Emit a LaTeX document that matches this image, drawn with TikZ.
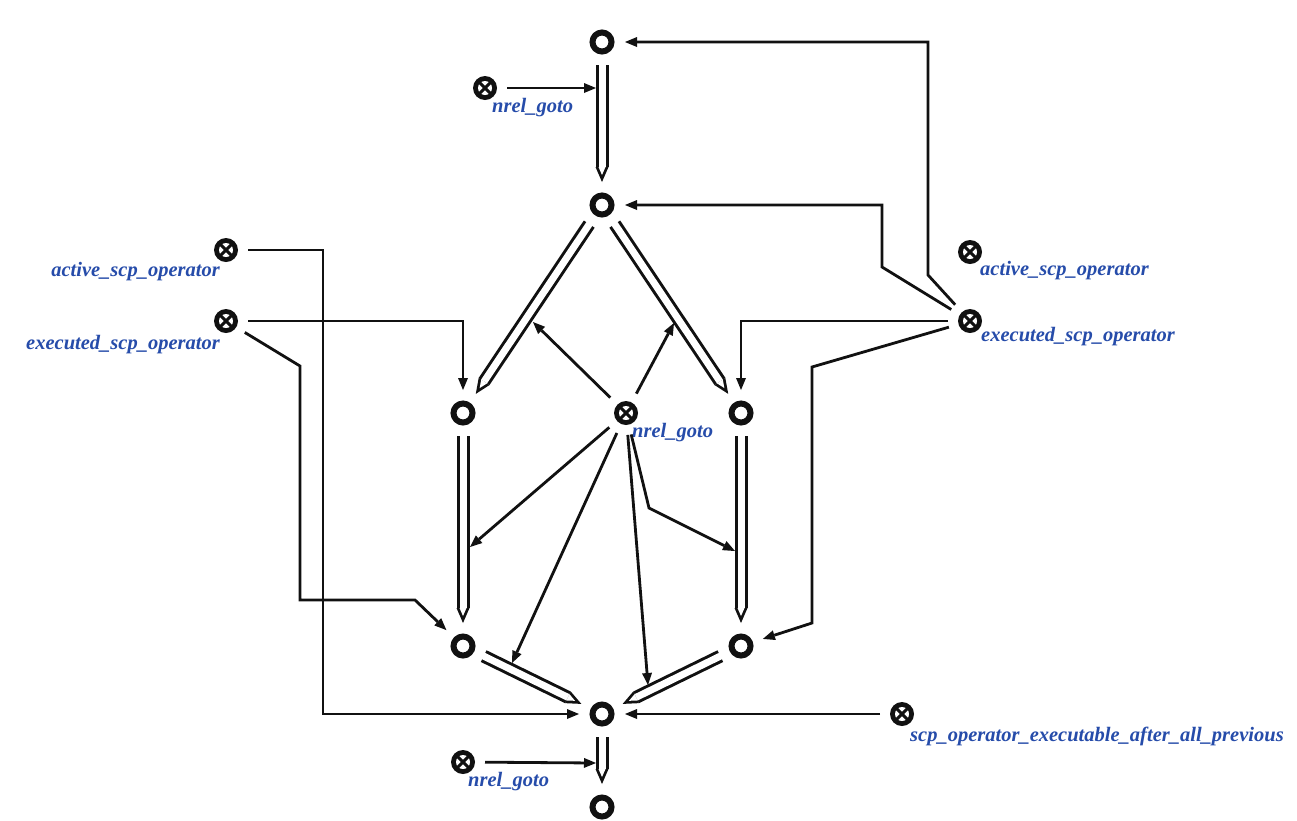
\documentclass[tikz,border=0pt]{standalone}
\usepackage{fontspec}
\setmainfont{Liberation Serif}
\usetikzlibrary{arrows.meta,calc}
\definecolor{lblblue}{RGB}{38,76,170}
\definecolor{ink}{RGB}{17,17,17}
% common (pair) arc: black outer body with a white core and pencil tip
\newcommand\pairarc[2]{%
  \draw[pairout] (#1) -- (#2);
  \draw[pairin] (#1) -- (#2);}
\begin{document}
\begin{tikzpicture}[x=1pt,y=-1pt,
  elnode/.style={circle, draw=ink, line width=6pt, fill=white,
    minimum size=19pt, inner sep=0pt, outer sep=13.5pt},
  classnode/.style={circle, fill=ink, minimum size=24pt, inner sep=0pt,
    outer sep=10pt,
    path picture={
      \fill[white] (path picture bounding box.center) circle[radius=7pt];
      \draw[ink, line width=3pt]
        ($(path picture bounding box.center)+(-8pt,-8pt)$) --
        ($(path picture bounding box.center)+(8pt,8pt)$);
      \draw[ink, line width=3pt]
        ($(path picture bounding box.center)+(-8pt,8pt)$) --
        ($(path picture bounding box.center)+(8pt,-8pt)$);
    }},
  lbl/.style={text=lblblue, inner sep=0pt,
    font=\fontsize{20.5}{22}\selectfont\bfseries\itshape},
  arr/.style={draw=ink, line width=2.8pt,
    -{Triangle[length=12pt,width=10pt,line width=0pt]}},
  pairout/.style={draw=ink, line width=13pt,
    -{Triangle[length=15pt,width=13pt,line width=0pt]}},
  pairin/.style={draw=white, line width=7pt, shorten <=-3pt, shorten >=7pt,
    -{Triangle[length=8pt,width=7pt,line width=0pt]}},
]
\fill[white] (0,0) rectangle (1297,820);
\useasboundingbox (0,0) rectangle (1297,820);

% element nodes
\node[elnode] (T1) at (602,42) {};
\node[elnode] (T2) at (602,205) {};
\node[elnode] (L1) at (463,413) {};
\node[elnode] (R1) at (741,413) {};
\node[elnode] (L2) at (463,646) {};
\node[elnode] (R2) at (741,646) {};
\node[elnode] (B)  at (602,714) {};
\node[elnode] (B2) at (602,807) {};

% class nodes
\node[classnode] (n1) at (485,88) {};
\node[classnode] (C)  at (626,413) {};
\node[classnode] (n3) at (463,762) {};
\node[classnode] (la) at (226,250) {};
\node[classnode] (le) at (226,321) {};
\node[classnode] (ra) at (970,252) {};
\node[classnode] (re) at (970,321) {};
\node[classnode] (se) at (902,714) {};

% labels
\node[lbl, anchor=base west] (tn1) at (492,112) {nrel\_goto};
\node[lbl, anchor=base west] (tC)  at (632,437) {nrel\_goto};
\node[lbl, anchor=base west] (tn3) at (468,786) {nrel\_goto};
\node[lbl, anchor=base east] (tla) at (220,276) {active\_scp\_operator};
\node[lbl, anchor=base east] (tle) at (220,349) {executed\_scp\_operator};
\node[lbl, anchor=base west] (tra) at (980,275) {active\_scp\_operator};
\node[lbl, anchor=base west] (tre) at (981,341) {executed\_scp\_operator};
\node[lbl, anchor=base west] (tse) at (910,741) {scp\_operator\_executable\_after\_all\_previous};

% pair arcs of the goto chain
\pairarc{T1}{T2}
\pairarc{T2}{L1}
\pairarc{T2}{R1}
\pairarc{L1}{L2}
\pairarc{R1}{R2}
\pairarc{L2}{B}
\pairarc{R2}{B}
\pairarc{B}{B2}

% points where access arcs meet the pair arcs
\coordinate (p1) at (596,88);
\coordinate (p8) at (596,763);
\coordinate (q1) at (533,322);
\coordinate (q2) at (674,323);
\coordinate (q3) at (470,547);
\coordinate (k4) at (649,508);
\coordinate (q4) at (735,551);
\coordinate (q5) at (512,663);
\coordinate (q6) at (648,685);

% access arcs from nrel_goto
\draw[arr] (n1) -- (p1);
\draw[arr] (n3) -- (p8);
\draw[arr] (C) -- (q1);
\draw[arr] (C) -- (q2);
\draw[arr] (C) -- (q3);
\draw[arr] (C) -- (k4) -- (q4);
\draw[arr] (C) -- (q5);
\draw[arr] (C) -- (q6);

% access arcs from the left classes
\draw[arr] (la) -- ++(97,0) |- (B);
\draw[arr] (le) -| (L1);
\draw[arr] (le) -- (300,366) -- (300,600) -- (415,600) -- (L2);

% access arcs from the right classes
\draw[arr] (re) -- (928,275) -- (928,42) -- (T1);
\draw[arr] (re) -- (882,267) -- (882,205) -- (T2);
\draw[arr] (re) -| (R1);
\draw[arr] (re) -- (812,367) -- (812,623) -- (R2);
\draw[arr] (se) -- (B);
\end{tikzpicture}
\end{document}
